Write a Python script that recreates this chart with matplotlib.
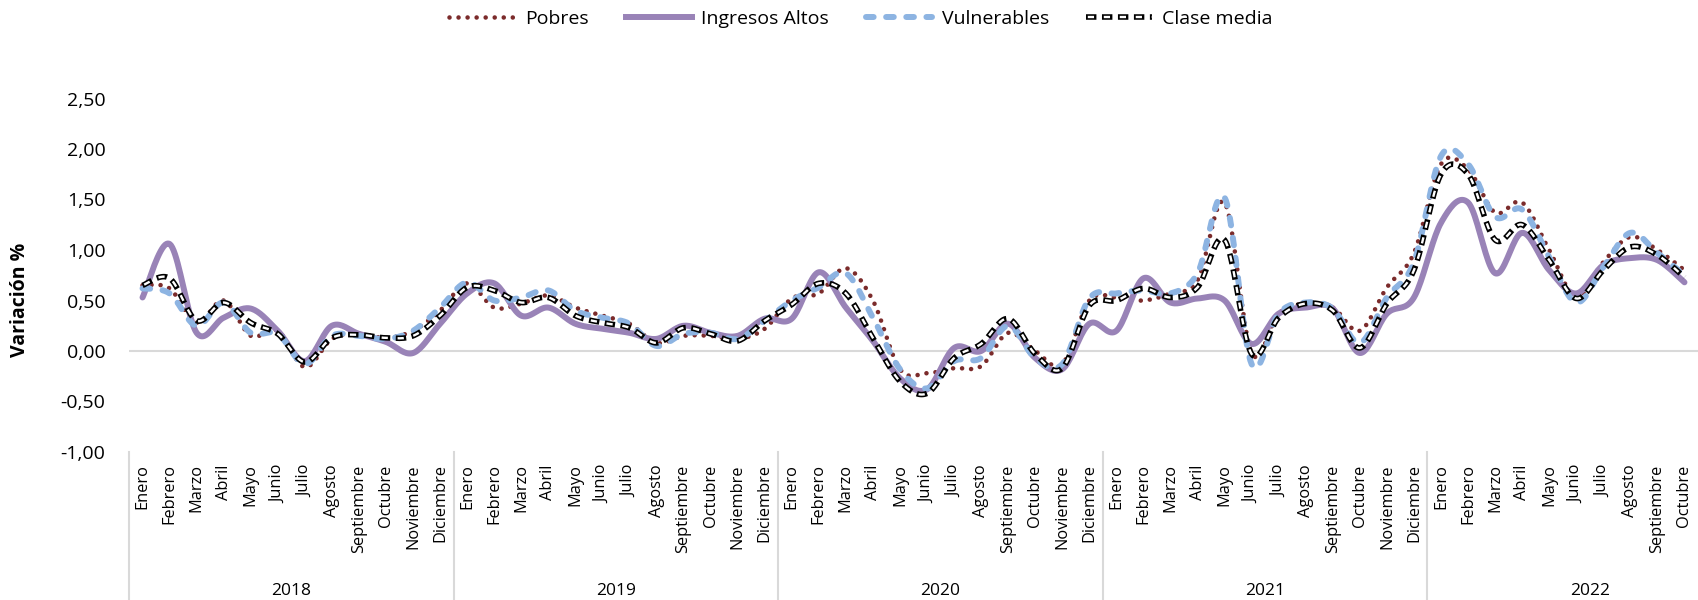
import numpy as np
import matplotlib
matplotlib.use("Agg")
from matplotlib import pyplot as plt
from matplotlib.lines import Line2D
from matplotlib import transforms

plt.rcParams['font.family'] = ['Open Sans', 'DejaVu Sans']
plt.rcParams['lines.scale_dashes'] = False

years = ['2018', '2019', '2020', '2021', '2022']
months = ['Enero', 'Febrero', 'Marzo', 'Abril', 'Mayo', 'Junio', 'Julio',
          'Agosto', 'Septiembre', 'Octubre', 'Noviembre', 'Diciembre']

pobres = [0.65, 0.62, 0.28, 0.50, 0.15, 0.20, -0.16, 0.12, 0.17, 0.13, 0.20, 0.40,
          0.67, 0.43, 0.47, 0.55, 0.43, 0.35, 0.27, 0.08, 0.15, 0.15, 0.12, 0.22,
          0.52, 0.57, 0.82, 0.50, -0.18, -0.22, -0.17, -0.15, 0.18, 0.00, -0.13, 0.50,
          0.53, 0.50, 0.57, 0.70, 1.47, -0.02, 0.37, 0.47, 0.43, 0.20, 0.63, 0.97,
          1.85, 1.80, 1.37, 1.47, 1.00, 0.53, 0.88, 1.13, 1.00, 0.80]
ingresos_altos = [0.53, 1.06, 0.18, 0.33, 0.42, 0.20, -0.10, 0.25, 0.17, 0.09, -0.02, 0.27,
                  0.57, 0.67, 0.35, 0.43, 0.27, 0.22, 0.18, 0.12, 0.25, 0.18, 0.15, 0.32,
                  0.32, 0.78, 0.43, 0.10, -0.27, -0.38, 0.03, 0.00, 0.27, -0.07, -0.18, 0.27,
                  0.20, 0.72, 0.48, 0.52, 0.50, 0.07, 0.37, 0.43, 0.42, -0.02, 0.37, 0.53,
                  1.27, 1.47, 0.77, 1.17, 0.80, 0.57, 0.85, 0.92, 0.90, 0.68]
vulnerables = [0.62, 0.57, 0.25, 0.48, 0.18, 0.17, -0.13, 0.15, 0.15, 0.12, 0.20, 0.43,
               0.68, 0.50, 0.53, 0.60, 0.40, 0.33, 0.27, 0.05, 0.17, 0.18, 0.12, 0.30,
               0.50, 0.63, 0.77, 0.33, -0.18, -0.37, -0.10, -0.07, 0.25, -0.07, -0.13, 0.52,
               0.57, 0.60, 0.57, 0.77, 1.52, -0.13, 0.37, 0.48, 0.42, 0.08, 0.53, 0.88,
               1.93, 1.85, 1.33, 1.40, 0.93, 0.48, 0.83, 1.17, 0.97, 0.75]
clase_media = [0.65, 0.72, 0.30, 0.48, 0.28, 0.17, -0.11, 0.13, 0.16, 0.13, 0.15, 0.35,
               0.63, 0.60, 0.48, 0.53, 0.35, 0.28, 0.23, 0.08, 0.23, 0.17, 0.10, 0.30,
               0.46, 0.67, 0.57, 0.13, -0.30, -0.42, -0.07, 0.07, 0.32, -0.03, -0.17, 0.45,
               0.50, 0.62, 0.53, 0.63, 1.10, -0.03, 0.33, 0.47, 0.40, 0.03, 0.47, 0.80,
               1.75, 1.75, 1.10, 1.25, 0.90, 0.52, 0.80, 1.03, 0.95, 0.73]

yticks = [-1.0, -0.5, 0.0, 0.5, 1.0, 1.5, 2.0, 2.5]


def smooth(y, steps=20):
    # Excel style smoothed line (bezier through every point)
    y = np.asarray(y, dtype=float)
    x = np.arange(len(y), dtype=float)
    p = np.column_stack([x, y])
    p = np.vstack([p[0], p, p[-1]])
    t = np.linspace(0, 1, steps, endpoint=False)[:, None]
    out = []
    for i in range(1, len(p) - 2):
        p0, p1, p2, p3 = p[i - 1], p[i], p[i + 1], p[i + 2]
        c1 = p1 + (p2 - p0) / 6
        c2 = p2 - (p3 - p1) / 6
        seg = ((1 - t) ** 3) * p1 + 3 * ((1 - t) ** 2) * t * c1 + 3 * (1 - t) * t ** 2 * c2 + t ** 3 * p2
        out.append(seg)
    out.append(p[-2][None, :])
    out = np.vstack(out)
    return out[:, 0], out[:, 1]


fig = plt.figure(figsize=(16.98, 6), dpi=100, facecolor='w')
ax = fig.add_axes([129 / 1698, 1 - 452 / 600, 1 - 129 / 1698, (452 - 98.5) / 600])

red = '#7B2B2B'
purple = '#9983B7'
blue = '#8DB4E2'

ls_pob = (0, (0.01, 6.5))
ls_vul = (0, (5.5, 9.0))
ls_cm_out = (0, (7.5, 4.0))
ls_cm_in = (10.2, (4.5, 7.0))

ax.axhline(0, color='#D9D9D9', lw=1.5, zorder=1)

xs, ys = smooth(pobres)
ax.plot(xs, ys, color=red, lw=3.3, dash_capstyle='round', linestyle=ls_pob, zorder=3)
xs, ys = smooth(ingresos_altos)
ax.plot(xs, ys, color=purple, lw=4.3, solid_capstyle='round', zorder=4)
xs, ys = smooth(vulnerables)
ax.plot(xs, ys, color=blue, lw=4.3, dash_capstyle='round', linestyle=ls_vul, zorder=5)
xs, ys = smooth(clase_media)
ax.plot(xs, ys, color='black', lw=4.0, dash_capstyle='butt', linestyle=ls_cm_out, zorder=6)
ax.plot(xs, ys, color='white', lw=1.7, dash_capstyle='butt', linestyle=ls_cm_in, zorder=7)

n = len(pobres)
ax.set_xlim(-0.5, n - 0.5)
ax.set_ylim(-1.0, 2.5)
ax.set_yticks(yticks)
ax.set_yticklabels([('%.2f' % v).replace('.', ',') for v in yticks], fontsize=14)
labels = (months * len(years))[:n]
ax.set_xticks(range(n))
ax.set_xticklabels(labels, rotation=90, fontsize=11.8, va='top', ha='center')
ax.tick_params(axis='y', length=0, pad=17)
ax.tick_params(axis='x', length=0, pad=9)
for s in ax.spines.values():
    s.set_visible(False)

# year separators and year labels below the month names
trans = transforms.blended_transform_factory(ax.transData, ax.transAxes)
for k in range(len(years)):
    ax.plot([12 * k - 0.5, 12 * k - 0.5], [0, -0.42], transform=trans, color='#D9D9D9',
            lw=1.5, clip_on=False)
ftrans = transforms.blended_transform_factory(ax.transData, fig.transFigure)
for k, yr in enumerate(years):
    ax.text(12 * k + 5.5, 1 - 591 / 600, yr, transform=ftrans, ha='center', va='center',
            fontsize=12.5, clip_on=False)

fig.text(20 / 1698, 0.50, 'Variación %', rotation=90, ha='center', va='center',
         fontsize=14, fontweight='bold')

h_pob = Line2D([], [], color=red, lw=3.3, dash_capstyle='round', linestyle=ls_pob)
h_ing = Line2D([], [], color=purple, lw=4.3)
h_vul = Line2D([], [], color=blue, lw=4.3, dash_capstyle='round', linestyle=ls_vul)
h_cm1 = Line2D([], [], color='black', lw=4.0, linestyle=ls_cm_out)
h_cm2 = Line2D([], [], color='white', lw=1.7, linestyle=ls_cm_in)
fig.legend([h_pob, h_ing, h_vul, (h_cm1, h_cm2)],
           ['Pobres', 'Ingresos Altos', 'Vulnerables', 'Clase media'],
           loc='center', bbox_to_anchor=(0.507, 1 - 19 / 600), ncol=4, frameon=False,
           fontsize=14, handlelength=3.4, handletextpad=0.5, columnspacing=1.9)

fig.savefig('out.png', dpi=100, facecolor='w')
